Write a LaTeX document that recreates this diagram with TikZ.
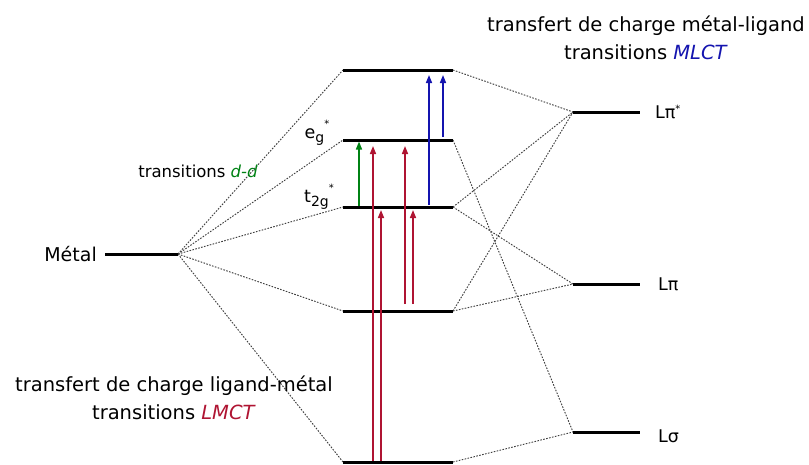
\documentclass[tikz,border=0pt]{standalone}
\usepackage{fontspec}
\setmainfont{DejaVu Sans}
\usetikzlibrary{arrows.meta,calc}
\definecolor{ddgreen}{RGB}{0,130,20}
\definecolor{lmred}{RGB}{175,20,50}
\definecolor{mlblue}{RGB}{20,20,175}
\begin{document}
\begin{tikzpicture}[x=1pt,y=-1pt,
  level/.style={line width=3pt},
  corr/.style={dash pattern=on 1.6pt off 1.4pt, gray!50!black, line width=0.95pt},
  trans/.style={line width=1.5pt,-{Triangle[length=8pt,width=6pt]}},
  lbl/.style={font=\fontsize{17.5}{28}\selectfont, inner sep=0pt, align=center},
  big/.style={font=\fontsize{19.5}{28}\selectfont}]
\useasboundingbox (0,0) rectangle (809,464);
% level end points
\coordinate (mL) at (105,254); \coordinate (mR) at (178,254);
\coordinate (aL) at (343,70);  \coordinate (aR) at (453,70);
\coordinate (egL) at (343,140); \coordinate (egR) at (453,140);
\coordinate (tL) at (343,207); \coordinate (tR) at (453,207);
\coordinate (bL) at (343,311); \coordinate (bR) at (453,311);
\coordinate (sL) at (343,462); \coordinate (sR) at (453,462);
\coordinate (pisL) at (573,112); \coordinate (pisR) at (640,112);
\coordinate (piL) at (573,284); \coordinate (piR) at (640,284);
\coordinate (sigL) at (573,432); \coordinate (sigR) at (640,432);
% correlation lines
\foreach \t in {aL,egL,tL,bL,sL} \draw[corr] (mR) -- (\t);
\draw[corr] (aR) -- (pisL);
\draw[corr] (egR) -- (sigL);
\draw[corr] (tR) -- (pisL);
\draw[corr] (tR) -- (piL);
\draw[corr] (bR) -- (pisL);
\draw[corr] (bR) -- (piL);
\draw[corr] (sR) -- (sigL);
% levels
\draw[level] (mL) -- (mR);
\draw[level] (aL) -- (aR);
\draw[level] (egL) -- (egR);
\draw[level] (tL) -- (tR);
\draw[level] (bL) -- (bR);
\draw[level] (sL) -- (sR);
\draw[level] (pisL) -- (pisR);
\draw[level] (piL) -- (piR);
\draw[level] (sigL) -- (sigR);
% arrow columns
\coordinate (xg) at (359,0);
\coordinate (xr1) at (373,0); \coordinate (xr2) at (381,0);
\coordinate (xr3) at (405,0); \coordinate (xr4) at (413,0);
\coordinate (xb1) at (429,0); \coordinate (xb2) at (443,0);
\draw[trans,ddgreen] ($(xg |- tL)+(0,-1)$) -- ($(xg |- egL)+(0,1.5)$);
\draw[trans,lmred] ($(xr1 |- sL)+(0,-1)$) -- ($(xr1 |- egL)+(0,6)$);
\draw[trans,lmred] ($(xr2 |- sL)+(0,-1)$) -- ($(xr2 |- tL)+(0,3)$);
\draw[trans,lmred] ($(xr3 |- bL)+(0,-7)$) -- ($(xr3 |- egL)+(0,6)$);
\draw[trans,lmred] ($(xr4 |- bL)+(0,-7)$) -- ($(xr4 |- tL)+(0,3)$);
\draw[trans,mlblue] ($(xb1 |- tL)+(0,-2)$) -- ($(xb1 |- aL)+(0,5)$);
\draw[trans,mlblue] ($(xb2 |- egL)+(0,-3)$) -- ($(xb2 |- aL)+(0,5)$);
% labels
\node[lbl, anchor=east, font=\fontsize{19}{28}\selectfont] (metal) at (97,254) {Métal};
\node[lbl, font=\fontsize{16.5}{28}\selectfont] (dd) at (198,171) {transitions \textcolor{ddgreen}{\textit{d-d}}};
\node[lbl] (eg) at (317,133) {e\raisebox{-0.45ex}{\fontsize{14}{14}\selectfont g}\raisebox{1.1ex}{\fontsize{10}{10}\selectfont *}};
\node[lbl] (t2g) at (319,197) {t\raisebox{-0.45ex}{\fontsize{14}{14}\selectfont 2g}\raisebox{1.1ex}{\fontsize{10}{10}\selectfont *}};
\node[lbl, anchor=west] (lpis) at (655,112) {Lπ\raisebox{0.7ex}{\fontsize{10}{10}\selectfont *}};
\node[lbl, anchor=west] (lpi) at (658,284) {Lπ};
\node[lbl, anchor=west] (lsig) at (658,436) {Lσ};
\node[lbl, big] (mlct) at (646,38) {transfert de charge métal-ligand\\transitions \textcolor{mlblue}{\textit{MLCT}}};
\node[lbl, big] (lmct) at (174,398) {transfert de charge ligand-métal\\transitions \textcolor{lmred}{\textit{LMCT}}};
\end{tikzpicture}
\end{document}
